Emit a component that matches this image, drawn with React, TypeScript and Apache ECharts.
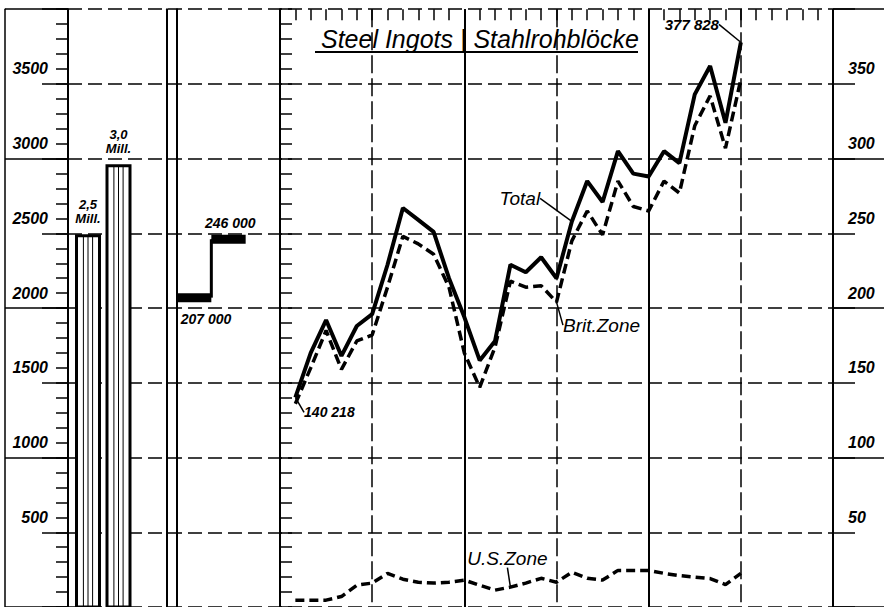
import React, { useEffect, useRef } from "react";
import * as echarts from "echarts";

// ---------- data ----------
const annualCategories = ["Jahr 1", "Jahr 2"];
const annualOutput = [2484, 2952]; // 1000 t per year (2,5 / 3,0 Mill.)
const yearlyMonthlyAverage = [207000, 246000]; // t per month
const monthNumbers = [
  1, 2, 3, 4, 5, 6, 7, 8, 9, 10, 11, 12, 13, 14, 15, 16, 17, 18, 19, 20, 21, 22,
  23, 24, 25, 26, 27, 28, 29, 30,
];
const totalOutput = [
  140.218, 170, 192, 168, 188, 196, 229, 267, 259, 251, 220, 194, 165, 178,
  229, 224, 234, 220, 258, 285, 271, 305, 290, 288, 305, 297, 343, 362, 324,
  377.828,
]; // 1000 t per month
const britishZone = [
  136, 160, 185, 159, 178, 182, 214, 248, 243, 236, 214, 170, 147, 174, 218,
  214, 215, 204, 245, 265, 249, 285, 268, 265, 285, 277, 322, 342, 307, 353,
];
const usZone = [
  4.6, 4.6, 4.6, 7, 14.6, 16, 22.5, 18.6, 16.6, 16, 16.6, 18, 14.6, 11.3, 13.3,
  16, 19.2, 16.6, 23.2, 19.2, 18, 24.5, 24.5, 24.5, 22.5, 21, 20, 19, 15, 22.5,
];
const titleText = "Steel Ingots | Stahlrohblöcke";

// ---------- annotation layout (styles) ----------
const FONT = "'Liberation Sans', Arial, sans-serif";
const totalNotes = [
  { index: 0, text: "value", dx: 34, dy: 15, size: 14 },
  { index: 18, text: "Total", dx: -52, dy: -23, size: 19 },
  { index: 29, text: "value", dx: -49, dy: -18, size: 15 },
];
const britNotes = [{ index: 17, text: "Brit.Zone", dx: 45, dy: 23, size: 19 }];
const usNotes = [{ index: 14, text: "U.S.Zone", dx: -3, dy: -29, size: 19 }];

const fmtTons = (v: number) =>
  String(Math.round(v)).replace(/\B(?=(\d{3})+(?!\d))/g, " ");

const TOP = 9.2;
const BOTTOM = -5;

function buildSeriesData(values: number[], notes: any[]) {
  return values.map((v, i) => {
    const n = notes.find((x) => x.index === i);
    if (!n) return { value: [monthNumbers[i], v], symbol: "none" };
    const text = n.text === "value" ? fmtTons(v * 1000) : n.text;
    return {
      value: [monthNumbers[i], v],
      symbol: "circle",
      symbolSize: 1,
      label: {
        show: true,
        position: "inside",
        formatter: text,
        fontFamily: FONT,
        fontStyle: "italic",
        fontWeight: n.text === "value" ? "bold" : "normal",
        fontSize: n.size,
        color: "#000",
      },
      labelLine: { show: true, lineStyle: { color: "#000", width: 1.5 } },
    };
  });
}

function layoutFor(notes: any[]) {
  return (p: any) => {
    const n = notes.find((x) => x.index === p.dataIndex);
    return n ? { dx: n.dx, dy: n.dy } : {};
  };
}

const hiddenX = (gridIndex: number, extra: any = {}) => ({
  gridIndex,
  type: "value",
  min: 0,
  max: 1,
  show: false,
  ...extra,
});

const lineOnlyY = (gridIndex: number, interval: number, solid: boolean, showAxis = false) => ({
  gridIndex,
  type: "value",
  min: 0,
  max: 400,
  interval,
  axisLine: { show: showAxis, lineStyle: { color: "#000", width: 1.5 } },
  axisTick: { show: false },
  axisLabel: { show: false },
  splitLine: {
    show: true,
    lineStyle: { color: "#000", width: 1.5, type: solid ? "solid" : [14, 6] },
  },
});

export default function App() {
  const ref = useRef<HTMLDivElement>(null);

  useEffect(() => {
    if (!ref.current) return;
    const chart = echarts.init(ref.current, null, { renderer: "svg" });

    const axisLabelStyle = {
      fontFamily: FONT,
      fontStyle: "italic",
      fontWeight: "bold",
      fontSize: 16,
      color: "#000",
    };

    const panel2Series: any[] = [];
    yearlyMonthlyAverage.forEach((avg, i) => {
      const v = avg / 1000;
      panel2Series.push({
        type: "line",
        xAxisIndex: 8,
        yAxisIndex: 9,
        data: [
          {
            value: [i, v],
            symbol: "circle",
            symbolSize: 1,
            label: {
              show: true,
              position: "inside",
              offset: i === 0 ? [29, 21] : [19, -16],
              formatter: fmtTons(avg),
              fontFamily: FONT,
              fontStyle: "italic",
              fontWeight: "bold",
              fontSize: 14,
              color: "#000",
            },
          },
          { value: [i + 1, v], symbol: "none" },
        ],
        lineStyle: { color: "#000", width: 9, cap: "butt" },
        itemStyle: { color: "#000" },
        z: 5,
      });
      if (i > 0) {
        const prev = yearlyMonthlyAverage[i - 1] / 1000;
        panel2Series.push({
          type: "line",
          xAxisIndex: 8,
          yAxisIndex: 9,
          symbol: "none",
          data: [
            [i, prev],
            [i, v],
          ],
          lineStyle: { color: "#000", width: 3 },
          z: 4,
        });
      }
    });

    const option: any = {
      animation: false,
      backgroundColor: "#fff",
      title: {
        text: titleText,
        left: 316,
        top: 21,
        textStyle: {
          fontFamily: FONT,
          fontStyle: "italic",
          fontWeight: "normal",
          fontSize: 25,
          color: "#000",
        },
      },
      graphic: [
        {
          type: "line",
          shape: { x1: 315, y1: 52, x2: 638, y2: 52 },
          style: { stroke: "#000", lineWidth: 2 },
        },
      ],
      grid: [
        { left: 68, right: 51, top: TOP, bottom: BOTTOM }, // 0 dashed gridlines
        { left: 5, right: 816, top: TOP, bottom: BOTTOM }, // 1 left stub 100s
        { left: 42, right: 816, top: TOP, bottom: BOTTOM }, // 2 left stub 50s
        { left: 833, right: 0, top: TOP, bottom: BOTTOM }, // 3 right stub 100s
        { left: 833, right: 29, top: TOP, bottom: BOTTOM }, // 4 right stub 50s
        { left: 68, right: 717, top: TOP, bottom: BOTTOM }, // 5 left axis
        { left: 280, right: 51, top: TOP, bottom: BOTTOM }, // 6 right axis
        { left: 72.75, right: 750.25, top: TOP, bottom: BOTTOM }, // 7 annual bars
        { left: 177, right: 604, top: TOP, bottom: BOTTOM }, // 8 yearly averages
        { left: 280, right: 51, top: TOP, bottom: BOTTOM }, // 9 monthly lines
      ],
      xAxis: [
        hiddenX(0),
        hiddenX(1),
        hiddenX(2),
        hiddenX(3),
        hiddenX(4),
        hiddenX(5),
        hiddenX(6),
        { gridIndex: 7, type: "category", data: annualCategories, show: false },
        hiddenX(8, { max: 3 }),
        {
          gridIndex: 9,
          type: "value",
          min: 0,
          max: 36,
          interval: 12,
          axisLine: { show: false },
          axisTick: { show: false },
          axisLabel: { show: false },
          splitLine: { show: true, lineStyle: { color: "#000", width: 2 } },
        },
        {
          gridIndex: 9,
          type: "value",
          min: 0,
          max: 36,
          interval: 6,
          axisLine: { show: false },
          axisTick: { show: false },
          axisLabel: { show: false },
          splitLine: {
            show: true,
            lineStyle: { color: "#000", width: 1.5, type: [18, 5] },
          },
        },
        {
          gridIndex: 9,
          type: "value",
          min: 0,
          max: 36,
          interval: 1,
          axisLine: { show: false },
          axisTick: {
            show: true,
            inside: true,
            length: 11,
            lineStyle: { color: "#000", width: 1.5 },
          },
          axisLabel: { show: false },
          splitLine: { show: false },
        },
      ],
      yAxis: [
        lineOnlyY(0, 50, false),
        lineOnlyY(1, 100, true, true),
        lineOnlyY(2, 50, true),
        lineOnlyY(3, 100, true),
        lineOnlyY(4, 50, true),
        {
          gridIndex: 5,
          type: "value",
          position: "left",
          min: -100,
          max: 3900,
          interval: 100,
          axisLine: { show: true, lineStyle: { color: "#000", width: 2 } },
          axisTick: { show: true, length: 12, lineStyle: { color: "#000", width: 1.5 } },
          axisLabel: {
            ...axisLabelStyle,
            margin: 20,
            formatter: (v: number) => (v > 0 && v % 500 === 0 ? String(v) : ""),
          },
          splitLine: { show: false },
        },
        {
          gridIndex: 5,
          type: "value",
          position: "right",
          min: -100,
          max: 3900,
          interval: 100,
          axisLine: { show: true, onZero: false, lineStyle: { color: "#000", width: 2 } },
          axisTick: { show: false },
          axisLabel: { show: false },
          splitLine: { show: false },
        },
        {
          gridIndex: 6,
          type: "value",
          position: "right",
          min: -10,
          max: 390,
          interval: 10,
          axisLine: { show: true, lineStyle: { color: "#000", width: 2 } },
          axisTick: { show: true, length: 12, lineStyle: { color: "#000", width: 1.5 } },
          axisLabel: {
            ...axisLabelStyle,
            margin: 15,
            formatter: (v: number) => (v > 0 && v % 50 === 0 ? String(v) : ""),
          },
          splitLine: { show: false },
        },
        { gridIndex: 7, type: "value", min: 0, max: 4000, show: false },
        {
          gridIndex: 8,
          type: "value",
          min: 0,
          max: 400,
          axisLine: { show: true, lineStyle: { color: "#000", width: 2 } },
          axisTick: { show: false },
          axisLabel: { show: false },
          splitLine: { show: false },
        },
        { gridIndex: 9, type: "value", min: 0, max: 400, show: false },
      ],
      series: [
        {
          type: "custom",
          xAxisIndex: 7,
          yAxisIndex: 8,
          data: annualOutput.map((v, i) => [i, v]),
          z: 3,
          renderItem: (_params: any, api: any) => {
            const cat = api.value(0);
            const val = api.value(1);
            const top = api.coord([cat, val]);
            const base = api.coord([cat, 0]);
            const w = 23;
            const x0 = top[0] - w / 2;
            const stripes = [0.3, 0.5, 0.7].map((f) => ({
              type: "line",
              shape: { x1: x0 + w * f, y1: top[1], x2: x0 + w * f, y2: base[1] },
              style: { stroke: "#000", lineWidth: 1 },
            }));
            return {
              type: "group",
              children: [
                {
                  type: "rect",
                  shape: { x: x0, y: top[1], width: w, height: base[1] - top[1] },
                  style: { fill: "#fff", stroke: "#000", lineWidth: 3 },
                },
                ...stripes,
                {
                  type: "text",
                  style: {
                    text:
                      (val / 1000).toFixed(1).replace(".", ",") + "\nMill.",
                    x: top[0],
                    y: top[1] - 10,
                    align: "center",
                    verticalAlign: "bottom",
                    fontFamily: FONT,
                    fontStyle: "italic",
                    fontWeight: "bold",
                    fontSize: 13,
                    lineHeight: 14,
                    fill: "#000",
                  },
                },
              ],
            };
          },
        },
        ...panel2Series,
        {
          name: "Total",
          type: "line",
          xAxisIndex: 9,
          yAxisIndex: 10,
          data: buildSeriesData(totalOutput, totalNotes),
          lineStyle: { color: "#000", width: 4 },
          itemStyle: { color: "#000" },
          labelLayout: layoutFor(totalNotes),
          labelLine: { show: true, lineStyle: { color: "#000", width: 1.5 } },
          z: 6,
        },
        {
          name: "Brit.Zone",
          type: "line",
          xAxisIndex: 9,
          yAxisIndex: 10,
          data: buildSeriesData(britishZone, britNotes),
          lineStyle: { color: "#000", width: 3.5, type: [10, 5] },
          itemStyle: { color: "#000" },
          labelLayout: layoutFor(britNotes),
          labelLine: { show: true, lineStyle: { color: "#000", width: 1.5 } },
          z: 6,
        },
        {
          name: "U.S.Zone",
          type: "line",
          xAxisIndex: 9,
          yAxisIndex: 10,
          data: buildSeriesData(usZone, usNotes),
          lineStyle: { color: "#000", width: 3.5, type: [9, 5] },
          itemStyle: { color: "#000" },
          labelLayout: layoutFor(usNotes),
          labelLine: { show: true, lineStyle: { color: "#000", width: 1.5 } },
          z: 6,
        },
      ],
    };

    chart.setOption(option);
    return () => chart.dispose();
  }, []);

  return (
    <div
      ref={ref}
      style={{
        position: "absolute",
        left: 0,
        top: 0,
        width: 884,
        height: 607,
        background: "#fff",
      }}
    />
  );
}
